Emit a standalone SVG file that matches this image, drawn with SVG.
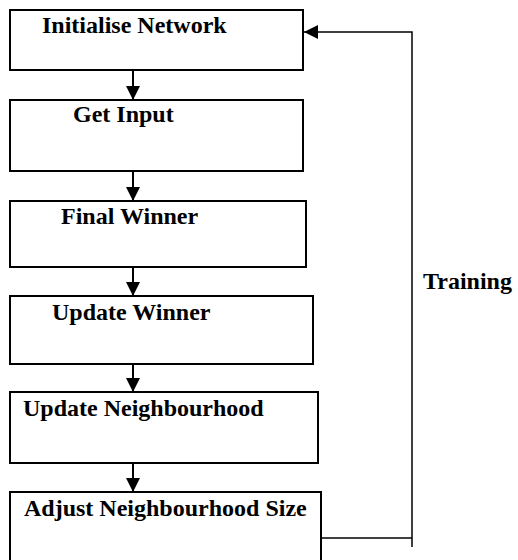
<svg xmlns="http://www.w3.org/2000/svg" width="518" height="560" viewBox="0 0 518 560">
  <style>
    .box { fill: #ffffff; stroke: #000000; stroke-width: 2; }
    .label { font-family: "Liberation Serif", "Times New Roman", serif; font-weight: bold; font-size: 24px; fill: #000000; }
    .flow { fill: none; stroke: #000000; stroke-width: 2; }
    .loop { fill: none; stroke: #000000; stroke-width: 1.5; }
  </style>
  <defs>
    <marker id="head" viewBox="0 0 14 14" refX="14" refY="7" markerWidth="14" markerHeight="14" markerUnits="userSpaceOnUse" orient="auto">
      <path d="M0,0 L14,7 L0,14 Z" fill="#000000"/>
    </marker>
  </defs>
  <rect width="518" height="560" fill="#ffffff"/>

  <g id="node-initialise">
    <rect class="box" x="10" y="10" width="293" height="60"/>
    <text class="label" x="42" y="33">Initialise Network</text>
  </g>
  <g id="node-get-input">
    <rect class="box" x="10" y="100" width="293" height="71"/>
    <text class="label" x="73" y="122">Get Input</text>
  </g>
  <g id="node-final-winner">
    <rect class="box" x="10" y="201" width="296" height="66"/>
    <text class="label" x="61" y="224">Final Winner</text>
  </g>
  <g id="node-update-winner">
    <rect class="box" x="10" y="296" width="303" height="68"/>
    <text class="label" x="52" y="320">Update Winner</text>
  </g>
  <g id="node-update-neighbourhood">
    <rect class="box" x="10" y="392" width="308" height="71"/>
    <text class="label" x="23" y="416">Update Neighbourhood</text>
  </g>
  <g id="node-adjust-size">
    <rect class="box" x="10" y="492" width="311" height="80"/>
    <text class="label" x="24" y="516">Adjust Neighbourhood Size</text>
  </g>

  <g id="connectors">
    <line class="flow" x1="133" y1="70" x2="133" y2="100" marker-end="url(#head)"/>
    <line class="flow" x1="133" y1="171" x2="133" y2="201" marker-end="url(#head)"/>
    <line class="flow" x1="133" y1="267" x2="133" y2="296" marker-end="url(#head)"/>
    <line class="flow" x1="133" y1="364" x2="133" y2="392" marker-end="url(#head)"/>
    <line class="flow" x1="133" y1="463" x2="133" y2="492" marker-end="url(#head)"/>
    <!-- training loop back to the start -->
    <polyline class="loop" points="321,538 412,538"/>
    <polyline class="loop" points="412,547 412,32 304,32" marker-end="url(#head)"/>
    <text class="label" x="423" y="289">Training</text>
  </g>
</svg>
